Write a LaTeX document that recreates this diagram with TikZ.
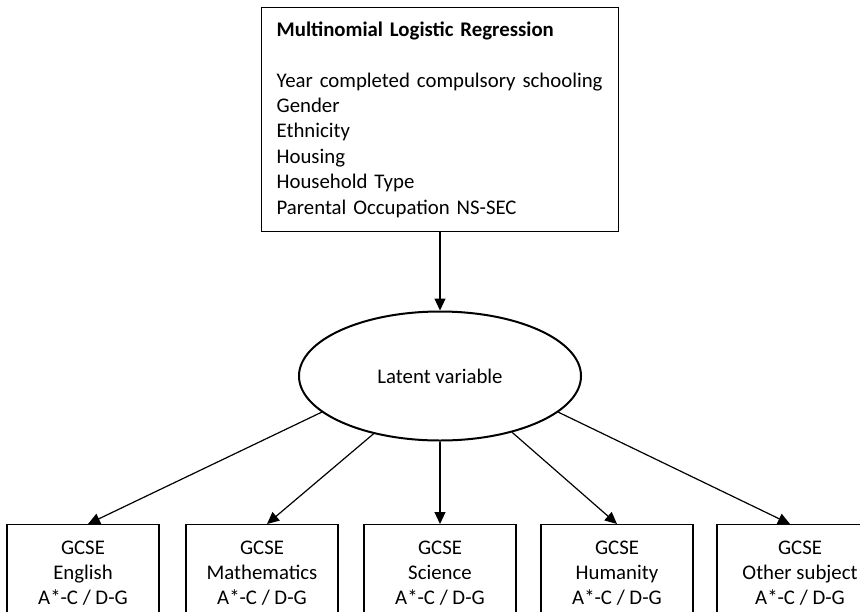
\documentclass[tikz,border=0pt]{standalone}
\usepackage{fontspec}
\setmainfont{Carlito}
\usetikzlibrary{arrows.meta,shapes.geometric}

\begin{document}
\begin{tikzpicture}[x=1pt,y=-1pt]

    \tikzset{%
        base/.style={font=\fontsize{20.8}{25.4}\selectfont},
        gcse/.style={base, draw, line width=1.3pt, anchor=north, align=center,
                minimum width=152pt, inner ysep=16pt},
        link/.style={line width=1.2pt, -{Triangle[length=12pt,width=11pt]}},
    }

    \clip (0,0) rectangle (860,611);

    \node [base, draw, line width=1.3pt, anchor=north west, text width=327pt,
        align=left, inner xsep=15pt, inner ysep=14pt] (mlr) at (261,7) {%
        \textbf{Multinomial Logistic Regression}\\[25.4pt]
        \mbox{Year completed compulsory schooling}\\
        Gender\\
        Ethnicity\\
        Housing\\
        Household Type\\
        Parental Occupation NS-SEC};

    \node [base, draw, ellipse, line width=2pt, minimum width=282pt,
        minimum height=129pt, inner sep=0pt] (lv) at (440,376) {Latent variable};

    \node [gcse] (english) at (83,524) {GCSE\\English\\A*-C / D-G};
    \node [gcse] (maths) at (262,524) {GCSE\\Mathematics\\A*-C / D-G};
    \node [gcse] (science) at (440,524) {GCSE\\Science\\A*-C / D-G};
    \node [gcse] (humanity) at (617,524) {GCSE\\Humanity\\A*-C / D-G};
    \node [gcse, minimum width=166pt] (other) at (800,524) {GCSE\\Other subject\\A*-C / D-G};

    \draw [link] (mlr.south -| lv.north) -- (lv.north);
    \draw [link] (lv.197) -- ([xshift=5pt]english.north);
    \draw [link] (lv.221) -- ([xshift=5pt]maths.north);
    \draw [link] (lv.south) -- (lv.south |- science.north);
    \draw [link] (lv.322) -- (humanity.north);
    \draw [link] (lv.343) -- ([xshift=-10pt]other.north);

\end{tikzpicture}
\end{document}
